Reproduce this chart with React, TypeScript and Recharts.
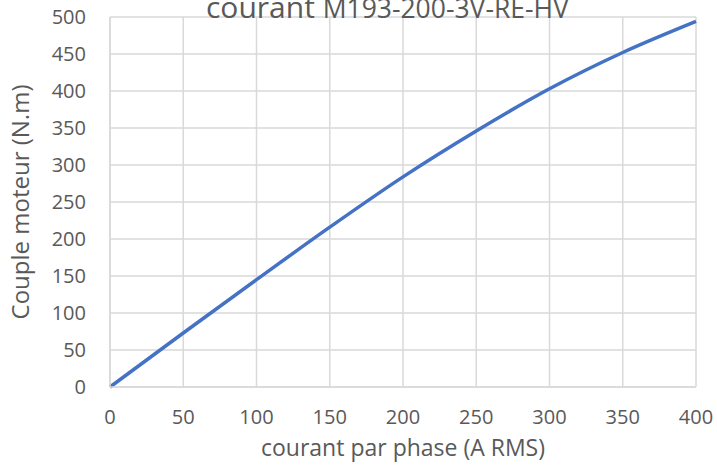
import React from 'react';
import { LineChart, Line, XAxis, YAxis, CartesianGrid } from 'recharts';

// courant par phase (A RMS) -> couple moteur (N.m)
const courant = [0, 50, 100, 150, 200, 250, 300, 350, 400];
const couple = [0, 73, 145, 216, 284, 346, 403, 452, 494];

const xTicks = [0, 50, 100, 150, 200, 250, 300, 350, 400];
const yTicks = [0, 50, 100, 150, 200, 250, 300, 350, 400, 450, 500];

const data = courant.map((c, i) => ({ courant: c, couple: couple[i] }));

const GRID = '#d9d9d9';
const TEXT = '#595959';
const FONT = '"Open Sans", sans-serif';

export default function App() {
  return (
    <div style={{ position: 'absolute', left: 0, top: 0, width: 717, height: 469, background: '#fff' }}>
      <LineChart width={717} height={469} data={data} margin={{ top: 17, right: 21, bottom: 0, left: 0 }}>
        <CartesianGrid stroke={GRID} strokeWidth={1.5} />
        <XAxis
          dataKey="courant"
          type="number"
          domain={[0, 400]}
          ticks={xTicks}
          axisLine={{ stroke: GRID, strokeWidth: 1.5 }}
          tickLine={false}
          tickSize={0}
          tickMargin={23}
          height={82}
          tick={{ fill: TEXT, fontSize: 20, fontFamily: FONT }}
        />
        <YAxis
          type="number"
          domain={[0, 500]}
          ticks={yTicks}
          width={110}
          axisLine={{ stroke: GRID, strokeWidth: 1.5 }}
          tickLine={false}
          tickSize={0}
          tickMargin={24}
          tick={{ fill: TEXT, fontSize: 20, fontFamily: FONT }}
        />
        <Line
          type="monotone"
          dataKey="couple"
          stroke="#4472C4"
          strokeWidth={3.5}
          dot={false}
          isAnimationActive={false}
        />
      </LineChart>
      <svg width={717} height={469} style={{ position: 'absolute', left: 0, top: 0, pointerEvents: 'none' }}>
        <text x={206} y={18} fill={TEXT} fontFamily={FONT}>
          <tspan fontSize={30}>courant </tspan>
          <tspan fontSize={26.5}>M193-200-3V-RE-HV</tspan>
        </text>
        <text x={403} y={456} fill={TEXT} fontFamily={FONT} fontSize={23} textAnchor="middle">
          courant par phase (A RMS)
        </text>
        <text
          x={0}
          y={0}
          transform="translate(29,202) rotate(-90)"
          fill={TEXT}
          fontFamily={FONT}
          fontSize={24}
          textAnchor="middle"
        >
          Couple moteur (N.m)
        </text>
      </svg>
    </div>
  );
}
